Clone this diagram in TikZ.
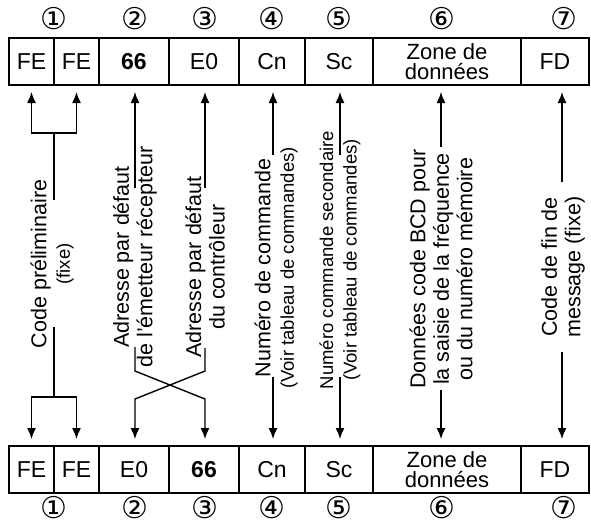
\documentclass[tikz,border=0pt]{standalone}
\usepackage{fontspec}
\setmainfont{Liberation Sans}
\newfontfamily\circfont{DejaVu Sans}
\usetikzlibrary{positioning,calc,arrows.meta}
\newcommand{\parfont}{\fontsize{18.5}{23.5}\selectfont}
\tikzset{
  cell/.style={draw,line width=1.4pt,minimum height=47pt,inner sep=0pt,outer sep=0pt,
    anchor=north west,align=center,font=\fontsize{23}{20}\selectfont},
  lbl/.style={rotate=90,align=center,inner sep=2pt,font=\fontsize{21.5}{23.5}\selectfont},
  num/.style={inner sep=0pt,font=\circfont\fontsize{30}{30}\selectfont},
  wire/.style={line width=1.4pt},
  arr/.style={wire,-{Latex[length=11pt,width=9pt]},shorten >=7pt}
}

\begin{document}
\begin{tikzpicture}[x=1pt,y=-1pt]
  \useasboundingbox (0,0) rectangle (591,528);
  % message envoye
  \node[cell,minimum width=45pt] (t1a) at (9,38) {FE};
  \node[cell,minimum width=45pt,right=0pt of t1a] (t1b) {FE};
  \node[cell,minimum width=70pt,right=0pt of t1b] (t2) {\bfseries 66};
  \node[cell,minimum width=70pt,right=0pt of t2] (t3) {E0};
  \node[cell,minimum width=66pt,right=0pt of t3] (t4) {Cn};
  \node[cell,minimum width=68pt,right=0pt of t4] (t5) {Sc};
  \node[cell,minimum width=148pt,right=0pt of t5] (t6) {\fontsize{22}{20}\selectfont Zone de\\\fontsize{22}{20}\selectfont données};
  \node[cell,minimum width=68pt,right=0pt of t6] (t7) {FD};
  % message renvoye
  \node[cell,minimum width=45pt] (b1a) at (9,446) {FE};
  \node[cell,minimum width=45pt,right=0pt of b1a] (b1b) {FE};
  \node[cell,minimum width=70pt,right=0pt of b1b] (b2) {E0};
  \node[cell,minimum width=70pt,right=0pt of b2] (b3) {\bfseries 66};
  \node[cell,minimum width=66pt,right=0pt of b3] (b4) {Cn};
  \node[cell,minimum width=68pt,right=0pt of b4] (b5) {Sc};
  \node[cell,minimum width=148pt,right=0pt of b5] (b6) {\fontsize{22}{20}\selectfont Zone de\\\fontsize{22}{20}\selectfont données};
  \node[cell,minimum width=68pt,right=0pt of b6] (b7) {FD};
  % numeros
  \foreach \i/\x/\g in {1/54/①,2/135/②,3/205/③,4/272/④,5/339/⑤,6/442/⑥,7/564/⑦} {
    \node[num] (n\i) at (\x,19) {\g};
    \node[num] (m\i) at (\x,508) {\g};
  }
  % textes
  \node[lbl] (l1) at (52,264) {Code préliminaire\\\parfont (fixe)};
  \node[lbl] (l2) at (135,257) {Adresse par défaut\\de l'émetteur récepteur};
  \node[lbl] (l3) at (205,267) {Adresse par défaut\\du contrôleur};
  \node[lbl] (l4) at (276,268) {Numéro de commande\\\parfont (Voir tableau de commandes)};
  \node[lbl,font=\parfont] (l5) at (340,260) {Numéro commande secondaire\\(Voir tableau de commandes)};
  \node[lbl] (l6) at (441,269) {Données code BCD pour\\la saisie de la fréquence\\ou du numéro mémoire};
  \node[lbl] (l7) at (563,267) {Code de fin de\\message (fixe)};
  % traits
  \foreach \c/\x/\a/\b in {1/54/200/327,2/135/188/347,3/205/188/348,4/273/155/377,
                           5/340/155/377,6/441/147/390,7/562/182/352} {
    \coordinate (top\c) at (\x,\a);
    \coordinate (bot\c) at (\x,\b);
  }
  \coordinate (j1t) at (54,133);
  \coordinate (j1b) at (54,397);
  \coordinate (x2a) at (135,371);
  \coordinate (x2b) at (135,399);
  \coordinate (x3a) at (205,371);
  \coordinate (x3b) at (205,399);
  \draw[wire] (top1) -- (j1t);
  \draw[arr] (j1t) -| (t1a.south);
  \draw[arr] (j1t) -| (t1b.south);
  \draw[wire] (bot1) -- (j1b);
  \draw[arr] (j1b) -| (b1a.north);
  \draw[arr] (j1b) -| (b1b.north);
  \foreach \c in {2,...,7}
    \draw[arr] (top\c) -- (top\c |- t\c.south);
  \draw[arr] (bot2) -- (x2a) -- (x3b) -- (x3b |- b3.north);
  \draw[arr] (bot3) -- (x3a) -- (x2b) -- (x2b |- b2.north);
  \foreach \c in {4,...,7}
    \draw[arr] (bot\c) -- (bot\c |- b\c.north);
\end{tikzpicture}
\end{document}
